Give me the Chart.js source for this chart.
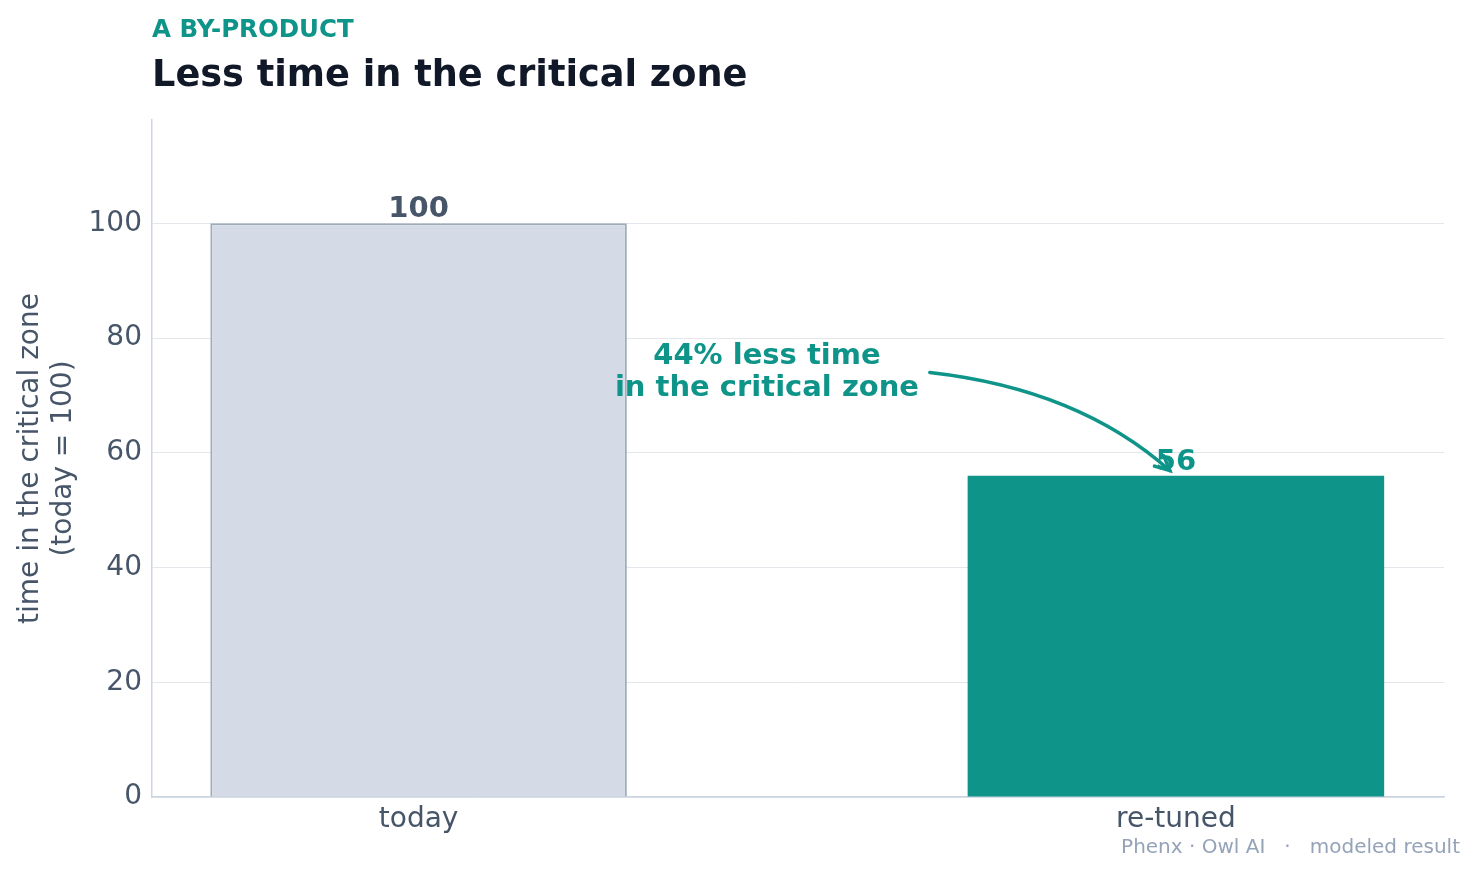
<!DOCTYPE html>
<html>
<head>
<meta charset="utf-8">
<script src="https://cdn.jsdelivr.net/npm/chart.js@4/dist/chart.umd.min.js"></script>
<style>
  html, body { margin: 0; padding: 0; background: #ffffff; }
  #wrap { position: relative; width: 1478px; height: 874px; }
</style>
</head>
<body>
<div id="wrap"><canvas id="c"></canvas></div>
<script>
// ---- data ----
const categories = ['today', 're-tuned'];
const values = [100, 56];
const yTicks = [0, 20, 40, 60, 80, 100];
const yAxisTitle = ['time in the critical zone', '(today = 100)'];
const kicker = 'A BY-PRODUCT';
const title = 'Less time in the critical zone';
const footer = 'Phenx \u00b7 Owl AI   \u00b7   modeled result';
const annotationLines = ['44% less time', 'in the critical zone'];
// annotation text anchor and arrow in data units
const annotationTextAt = [0.46, 74.0];
const arrowFrom = [0.675, 74];
const arrowTo = [0.992, 56.9];

const TEAL = '#0e9488';
const FONT = "'DejaVu Sans', 'Liberation Sans', sans-serif";

const barColors = ['#d5dbe6', TEAL];
const barBorders = ['#9eabba', TEAL];
const labelColors = ['#475569', TEAL];

const decor = {
  id: 'decor',
  afterDatasetsDraw(chart) {
    const ctx = chart.ctx;
    const xs = chart.scales.x, ys = chart.scales.y;
    ctx.save();
    // value labels
    ctx.font = 'bold 29px ' + FONT;
    ctx.textAlign = 'center';
    ctx.textBaseline = 'alphabetic';
    values.forEach((v, i) => {
      ctx.fillStyle = labelColors[i];
      ctx.fillText(String(v), xs.getPixelForValue(i), ys.getPixelForValue(v) - 6);
    });
    // annotation text
    ctx.fillStyle = TEAL;
    ctx.font = 'bold 29px ' + FONT;
    ctx.textBaseline = 'middle';
    const tx = xs.getPixelForValue(annotationTextAt[0]);
    const ty = ys.getPixelForValue(annotationTextAt[1]);
    ctx.fillText(annotationLines[0], tx, ty - 16);
    ctx.fillText(annotationLines[1], tx, ty + 16);
    // arrow
    const x1 = xs.getPixelForValue(arrowFrom[0]), y1 = ys.getPixelForValue(arrowFrom[1]);
    const x2 = xs.getPixelForValue(arrowTo[0]), y2 = ys.getPixelForValue(arrowTo[1]);
    const cx = x1 + (x2 - x1) * 0.62, cy = y1 + (y2 - y1) * 0.17;
    ctx.strokeStyle = TEAL;
    ctx.lineWidth = 3.5;
    ctx.lineCap = 'round';
    ctx.beginPath();
    ctx.moveTo(x1, y1);
    ctx.quadraticCurveTo(cx, cy, x2, y2);
    ctx.stroke();
    const ang = Math.atan2(y2 - cy, x2 - cx);
    const L = 16, spread = 0.45;
    ctx.beginPath();
    ctx.moveTo(x2 - L * Math.cos(ang - spread), y2 - L * Math.sin(ang - spread));
    ctx.lineTo(x2, y2);
    ctx.lineTo(x2 - L * Math.cos(ang + spread), y2 - L * Math.sin(ang + spread));
    ctx.stroke();
    ctx.restore();
  },
  afterDraw(chart) {
    const ctx = chart.ctx;
    const left = chart.chartArea.left;
    ctx.save();
    ctx.textAlign = 'left';
    ctx.textBaseline = 'alphabetic';
    ctx.fillStyle = TEAL;
    ctx.font = 'bold 24.5px ' + FONT;
    ctx.fillText(kicker, left, 37);
    ctx.fillStyle = '#111827';
    ctx.font = 'bold 36.7px ' + FONT;
    ctx.fillText(title, left, 86);
    ctx.fillStyle = '#94a3b8';
    ctx.font = '20px ' + FONT;
    ctx.textAlign = 'right';
    ctx.fillText(footer, 1460, 853);
    ctx.restore();
  }
};

new Chart(document.getElementById('c'), {
  type: 'bar',
  data: {
    datasets: [{
      data: categories.map((c, i) => ({ x: i, y: values[i] })),
      backgroundColor: barColors,
      borderColor: barBorders,
      borderWidth: [2, 0],
      borderSkipped: 'start',
      categoryPercentage: 1,
      barPercentage: 0.55
    }]
  },
  options: {
    responsive: true,
    maintainAspectRatio: false,
    animation: false,
    layout: { padding: { top: 120, right: 34, left: 0, bottom: 0 } },
    plugins: { legend: { display: false }, tooltip: { enabled: false } },
    scales: {
      x: {
        type: 'linear',
        offset: false,
        min: -0.352,
        max: 1.354,
        afterBuildTicks: (s) => { s.ticks = categories.map((c, i) => ({ value: i })); },
        afterFit: (s) => { s.height = 77; },
        ticks: {
          callback: (v) => categories[v],
          color: '#475569',
          font: { family: FONT, size: 28 },
          padding: 6,
          maxRotation: 0
        },
        grid: { display: false, drawTicks: false },
        border: { color: '#cbd5e1', width: 1.5 }
      },
      y: {
        min: 0,
        max: 118,
        afterBuildTicks: (s) => { s.ticks = yTicks.map(v => ({ value: v })); },
        afterFit: (s) => { s.width = 152; },
        ticks: {
          color: '#475569',
          font: { family: FONT, size: 28 },
          padding: 10
        },
        grid: { color: '#e3e7ec', lineWidth: 1, drawTicks: false },
        border: { color: '#cbd5e1', width: 1.5 },
        title: {
          display: true,
          text: yAxisTitle,
          color: '#475569',
          font: { family: FONT, size: 28, lineHeight: 1.15 },
          padding: { top: 15, bottom: 0 }
        }
      }
    }
  },
  plugins: [decor]
});
</script>
</body>
</html>
